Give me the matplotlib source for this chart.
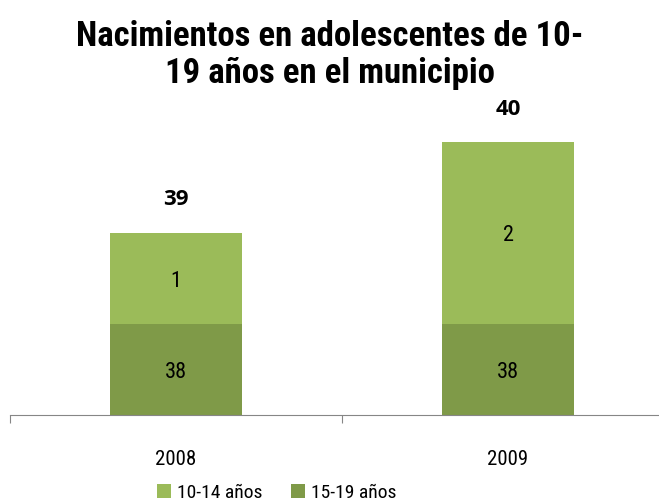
import matplotlib.pyplot as plt

years = ["2008", "2009"]
grp_15_19 = [38, 38]
grp_10_14 = [1, 2]
totals = [39, 40]

narrow = ["Roboto Condensed", "Liberation Sans"]
light = "#9BBB59"
dark = "#7F9A48"

fig = plt.figure(figsize=(6.59, 5.04), dpi=100)
ax = fig.add_axes([10 / 659, (504 - 415) / 504, 664 / 659, (415 - 97) / 504])

x = [0, 1]
ax.bar(x, grp_15_19, width=0.395, color=dark, label="15-19 años", zorder=2)
ax.bar(x, grp_10_14, bottom=grp_15_19, width=0.395, color=light, label="10-14 años", zorder=2)

# Excel axis starts at 37
ax.set_ylim(37, 40.5)
ax.set_xlim(-0.5, 1.5)

for i in x:
    ax.text(i, (37 + grp_15_19[i]) / 2, str(grp_15_19[i]), ha="center", va="center_baseline",
            fontsize=16, family=narrow)
    ax.text(i, grp_15_19[i] + grp_10_14[i] / 2, str(grp_10_14[i]), ha="center",
            va="center_baseline", fontsize=16, family=narrow)
    ax.annotate(str(totals[i]), (i, totals[i]), xytext=(0, 24), textcoords="offset points",
                ha="center", va="center", fontsize=16, fontweight="bold", family="Open Sans")

for s in ["top", "right", "left"]:
    ax.spines[s].set_visible(False)
ax.spines["bottom"].set_color("#868686")
ax.set_yticks([])
ax.set_xticks([-0.5, 0.5, 1.5])
ax.set_xticklabels([])
ax.tick_params(axis="x", length=6, color="#868686", direction="out")
for i in x:
    ax.text(i, -0.133, years[i], transform=ax.get_xaxis_transform(), ha="center",
            va="center_baseline", fontsize=15, family=narrow)

fig.text(0.5, 0.891, "Nacimientos en adolescentes de 10-\n19 años en el municipio",
         ha="center", va="center", fontsize=25, fontweight="bold", family=narrow,
         linespacing=1.14)

h, l = ax.get_legend_handles_labels()
fig.legend(h[::-1], l[::-1], loc="center", bbox_to_anchor=(0.42, 0.022), ncol=2,
           frameon=False, prop={"family": narrow, "size": 14}, handlelength=0.7,
           handleheight=0.7, handletextpad=0.3, columnspacing=1.5)

fig.savefig("out.png", dpi=100)
